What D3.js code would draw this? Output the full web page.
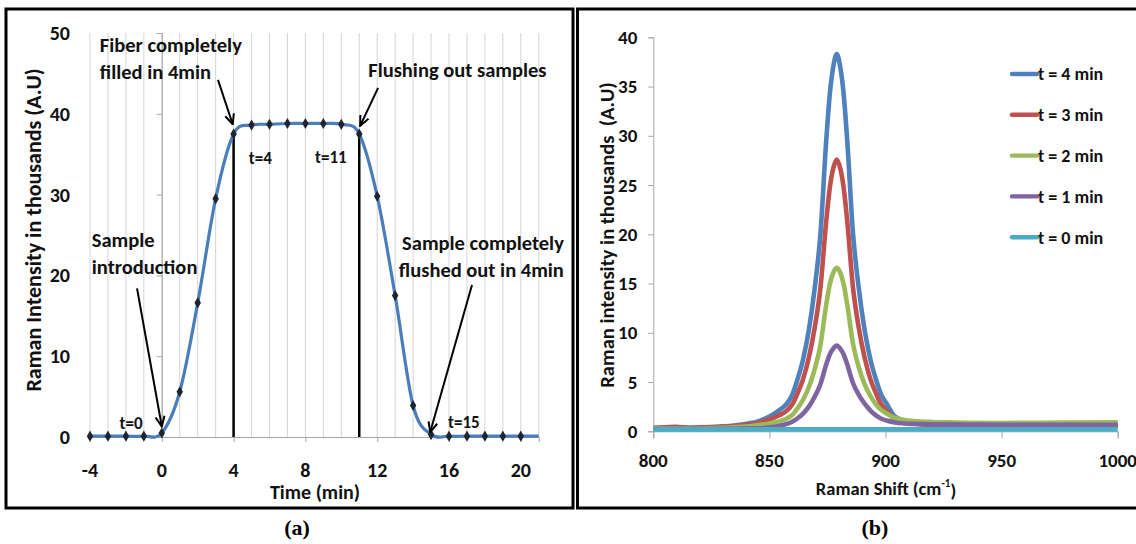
<!DOCTYPE html>
<html>
<head>
<meta charset="utf-8">
<script src="https://cdn.jsdelivr.net/npm/d3@7"></script>
<style>
  html, body { margin: 0; padding: 0; background: #fff; }
  svg { display: block; }
  .sans { font-family: Carlito, Lato, "Open Sans", sans-serif; }
  .serif { font-family: "Liberation Serif", "Times New Roman", serif; }
</style>
</head>
<body>
<svg id="chart" width="1136" height="544"></svg>
<script>
// ---------- panel (a): Raman intensity while the fiber fills and flushes ----------
const timeMin = [-4, -3, -2, -1, 0, 1, 2, 3, 4, 5, 6, 7, 8, 9, 10, 11, 12, 13, 14, 15, 16, 17, 18, 19, 20, 21];
const intensityA = [0.1, 0.1, 0.1, 0.1, 0.5, 5.6, 16.6, 29.5, 37.5, 38.6, 38.7, 38.8, 38.8, 38.8, 38.7, 37.5, 29.8, 17.5, 3.9, 0.3, 0.1, 0.1, 0.1, 0.1, 0.1, 0.1];
const timeTicks = [-4, 0, 4, 8, 12, 16, 20];
const intensityTicksA = [0, 10, 20, 30, 40, 50];
const markedTimes = [4, 11];   // fill complete / flushing starts

// ---------- panel (b): spectra around the 879 cm-1 band ----------
const shiftTicks = [800, 850, 900, 950, 1000];
const intensityTicksB = [0, 5, 10, 15, 20, 25, 30, 35, 40];
const seriesNames = ["t = 4 min", "t = 3 min", "t = 2 min", "t = 1 min", "t = 0 min"];
const seriesColors = ["#4F81BD", "#C0504D", "#9BBB59", "#8064A2", "#4BACC6"];

const spec4 = [[800,0.3],[810,0.35],[820,0.35],[830,0.5],[838,0.7],[845,1.0],[850,1.5],[854,2.1],[857.5,2.8],[860,3.8],[862,5.2],[864.5,7.3],[867,10.3],[869.5,14.5],[872,20.1],[874.5,29.6],[876,34.2],[877.5,37.0],[879,38.3],[880.5,37.0],[882,34.2],[883.5,29.6],[886,20.1],[888.5,14.5],[891,10.3],[893.5,7.3],[896,5.2],[898,3.8],[900.5,2.8],[904,1.5],[908,1.1],[912,0.9],[920,0.75],[930,0.65],[950,0.6],[975,0.6],[1000,0.6]];
const spec3 = [[800,0.35],[805,0.4],[810,0.45],[815,0.35],[820,0.4],[830,0.45],[838,0.6],[845,0.85],[850,1.2],[854,1.6],[857.5,2.1],[860,2.8],[862,3.8],[864.5,5.3],[867,7.5],[869.5,10.5],[872,14.6],[874.5,21.4],[876,24.7],[877.5,26.7],[879,27.6],[880.5,26.7],[882,24.7],[883.5,21.4],[886,14.6],[888.5,10.5],[891,7.5],[893.5,5.3],[896,3.8],[898,2.8],[900.5,2.1],[904,1.25],[908,0.95],[912,0.8],[920,0.65],[930,0.6],[950,0.55],[975,0.55],[1000,0.55]];
const spec2 = [[800,0.3],[820,0.3],[830,0.35],[838,0.45],[845,0.6],[850,0.8],[854,1.0],[857.5,1.3],[860,1.7],[862,2.3],[864.5,3.2],[867,4.5],[869.5,6.3],[872,8.8],[874.5,12.9],[876,14.9],[877.5,16.1],[879,16.6],[880.5,16.1],[882,14.9],[883.5,12.9],[886,8.9],[888.5,6.5],[891,4.8],[893.5,3.6],[896,2.7],[898,2.2],[900.5,1.8],[904,1.35],[908,1.15],[912,1.05],[920,0.95],[930,0.9],[950,0.85],[975,0.88],[1000,0.92]];
const spec1 = [[800,0.25],[830,0.25],[845,0.3],[850,0.4],[854,0.55],[857.5,0.75],[860,1.0],[862,1.3],[864.5,1.8],[867,2.5],[869.5,3.5],[872,4.8],[874.5,6.8],[876,7.8],[877.5,8.4],[879,8.7],[880.5,8.4],[882,7.8],[883.5,6.8],[886,4.9],[888.5,3.7],[891,2.8],[893.5,2.1],[896,1.6],[898,1.3],[900.5,1.1],[904,0.9],[908,0.8],[912,0.75],[920,0.7],[950,0.65],[975,0.65],[1000,0.65]];
const spec0 = [[800,0.2],[850,0.2],[900,0.2],[950,0.2],[1000,0.2]];
const spectra = [spec4, spec3, spec2, spec1, spec0];

const svg = d3.select("#chart");
svg.append("rect").attr("width", 1136).attr("height", 544).attr("fill", "#fff");

// arrowhead used by the call-outs
svg.append("defs").append("marker")
  .attr("id", "arrowhead")
  .attr("markerUnits", "userSpaceOnUse")
  .attr("viewBox", "0 0 12 12")
  .attr("markerWidth", 12).attr("markerHeight", 12)
  .attr("refX", 11).attr("refY", 6)
  .attr("orient", "auto")
  .append("path")
  .attr("d", "M1,1.5 L11,6 L1,10.5")
  .attr("fill", "none").attr("stroke", "#000").attr("stroke-width", 2);

// panel frames
svg.append("rect").attr("x", 6).attr("y", 9).attr("width", 567).attr("height", 499)
  .attr("fill", "none").attr("stroke", "#000").attr("stroke-width", 3);
svg.append("rect").attr("x", 577.5).attr("y", 9).attr("width", 570).attr("height", 499)
  .attr("fill", "none").attr("stroke", "#000").attr("stroke-width", 3);

// helper for bold sans labels
function label(sel, size, weight) {
  return sel.attr("class", "sans")
    .attr("font-size", size).attr("font-weight", weight || "bold").attr("fill", "#111");
}

// =================== panel (a) ===================
const xA = d3.scaleLinear().domain([-4, 21]).range([90, 538.75]);
const yA = d3.scaleLinear().domain([0, 50]).range([437, 33]);
const gA = svg.append("g");

// one-minute vertical gridlines
gA.append("g").selectAll("line")
  .data(d3.range(-4, 22))
  .join("line")
  .attr("x1", d => xA(d)).attr("x2", d => xA(d))
  .attr("y1", yA(0)).attr("y2", yA(50))
  .attr("stroke", "#d4d4d4").attr("stroke-width", 1);

// y axis drawn at t = 0, labels pulled out to the left edge
const yAxisA = gA.append("g").attr("transform", `translate(${xA(0)},0)`)
  .call(d3.axisLeft(yA).tickValues(intensityTicksA).tickSize(5).tickFormat(""));
yAxisA.select(".domain").attr("stroke", "#a6a6a6");
yAxisA.selectAll(".tick line").attr("stroke", "#a6a6a6");
label(gA.append("g").selectAll("text")
  .data(intensityTicksA)
  .join("text"), 20)
  .attr("x", 70).attr("y", d => yA(d)).attr("dy", "0.35em")
  .attr("text-anchor", "end")
  .text(d => d);

// x axis at intensity 0
const xAxisA = gA.append("g").attr("transform", `translate(0,${yA(0)})`)
  .call(d3.axisBottom(xA).tickValues(timeTicks).tickSize(5).tickFormat(""));
xAxisA.select(".domain").attr("stroke", "#a6a6a6");
xAxisA.selectAll(".tick line").attr("stroke", "#a6a6a6");
label(gA.append("g").selectAll("text")
  .data(timeTicks)
  .join("text"), 20)
  .attr("x", d => xA(d)).attr("y", yA(0) + 33).attr("dy", "0.35em")
  .attr("text-anchor", "middle")
  .text(d => d);

// axis titles
label(gA.append("text"), 22)
  .attr("transform", `translate(33,${(yA(0) + yA(50)) / 2 - 5}) rotate(-90)`)
  .attr("text-anchor", "middle").attr("dy", "0.35em")
  .text("Raman Intensity in thousands (A.U)");
label(gA.append("text"), 20)
  .attr("x", 315).attr("y", 492).attr("dy", "0.35em")
  .attr("text-anchor", "middle")
  .text("Time (min)");

const pointsA = timeMin.map((t, i) => ({ t, v: intensityA[i] }));

// markers at the fill-complete and flush-start times
gA.append("g").selectAll("line")
  .data(pointsA.filter(p => markedTimes.includes(p.t)))
  .join("line")
  .attr("x1", p => xA(p.t)).attr("x2", p => xA(p.t))
  .attr("y1", p => yA(p.v)).attr("y2", yA(0))
  .attr("stroke", "#000").attr("stroke-width", 2.5);

// smoothed intensity curve
gA.append("path")
  .datum(pointsA)
  .attr("d", d3.line().x(p => xA(p.t)).y(p => yA(p.v)).curve(d3.curveCatmullRom.alpha(0)))
  .attr("fill", "none").attr("stroke", "#4A7EBB").attr("stroke-width", 3.2);

// diamond markers on the sampled minutes
gA.append("g").selectAll("path")
  .data(pointsA.filter(p => p.t <= d3.max(timeTicks)))
  .join("path")
  .attr("transform", p => `translate(${xA(p.t)},${yA(p.v)})`)
  .attr("d", d3.symbol(d3.symbolDiamond, 36))
  .attr("fill", "#1e2430");

// call-out labels (positions in data units)
const notesA = [
  { lines: ["Fiber completely", "filled in 4min"], t: -3.45, v: 48.5, anchor: "start", size: 20.5 },
  { lines: ["Flushing out samples"], t: 11.5, v: 45.4, anchor: "start", size: 20.5 },
  { lines: ["Sample", "introduction"], t: -3.9, v: 24.4, anchor: "start", size: 20.5 },
  { lines: ["Sample completely", "flushed out in 4min"], t: 22.4, v: 24.0, anchor: "end", size: 20.5 },
  { lines: ["t=4"], t: 4.85, v: 34.5, anchor: "start", size: 17 },
  { lines: ["t=11"], t: 10.3, v: 34.6, anchor: "end", size: 17 },
  { lines: ["t=0"], t: -2.35, v: 1.75, anchor: "start", size: 17 },
  { lines: ["t=15"], t: 15.95, v: 1.85, anchor: "start", size: 17 }
];
notesA.forEach(n => {
  const txt = label(gA.append("text"), n.size).attr("text-anchor", n.anchor);
  n.lines.forEach((line, i) => {
    txt.append("tspan")
      .attr("x", xA(n.t))
      .attr("y", yA(n.v) + i * 27)
      .attr("dy", "0.35em")
      .text(line);
  });
});

const arrowsA = [
  { from: [3.13, 44.2], to: [3.95, 38.7] },
  { from: [12.05, 43.2], to: [11.05, 38.5] },
  { from: [-1.38, 18.4], to: [0.0, 1.3] },
  { from: [17.28, 18.8], to: [14.95, 0.6] }
];
gA.append("g").selectAll("line")
  .data(arrowsA)
  .join("line")
  .attr("x1", a => xA(a.from[0])).attr("y1", a => yA(a.from[1]))
  .attr("x2", a => xA(a.to[0])).attr("y2", a => yA(a.to[1]))
  .attr("stroke", "#000").attr("stroke-width", 2)
  .attr("marker-end", "url(#arrowhead)");

// =================== panel (b) ===================
const xB = d3.scaleLinear().domain([800, 1000]).range([653.3, 1117.7]);
const yB = d3.scaleLinear().domain([0, 40]).range([431.3, 37.3]);
const gB = svg.append("g");

const yAxisB = gB.append("g").attr("transform", `translate(${xB(800)},0)`)
  .call(d3.axisLeft(yB).tickValues(intensityTicksB).tickSize(5).tickFormat(""));
yAxisB.select(".domain").attr("stroke", "#a6a6a6");
yAxisB.selectAll(".tick line").attr("stroke", "#a6a6a6");
label(gB.append("g").selectAll("text")
  .data(intensityTicksB)
  .join("text"), 19)
  .attr("x", xB(800) - 16).attr("y", d => yB(d)).attr("dy", "0.35em")
  .attr("text-anchor", "end")
  .text(d => d);

const xAxisB = gB.append("g").attr("transform", `translate(0,${yB(0)})`)
  .call(d3.axisBottom(xB).tickValues(shiftTicks).tickSize(7).tickFormat(""));
xAxisB.select(".domain").attr("stroke", "#a6a6a6");
xAxisB.selectAll(".tick line").attr("stroke", "#a6a6a6");
label(gB.append("g").selectAll("text")
  .data(shiftTicks)
  .join("text"), 19)
  .attr("x", d => xB(d)).attr("y", yB(0) + 29).attr("dy", "0.35em")
  .attr("text-anchor", "middle")
  .text(d => d);

label(gB.append("text"), 20.5)
  .attr("transform", `translate(607,235) rotate(-90)`)
  .attr("text-anchor", "middle").attr("dy", "0.35em")
  .attr("xml:space", "preserve")
  .text("Raman intensity in thousands  (A.U)");

const xTitleB = label(gB.append("text"), 18.5)
  .attr("x", 886).attr("y", 489).attr("dy", "0.35em")
  .attr("text-anchor", "middle");
xTitleB.append("tspan").text("Raman Shift (cm");
xTitleB.append("tspan").attr("font-size", 11).attr("dy", "-0.8em").text("-1");
xTitleB.append("tspan").attr("dy", "0.55em").text(")");

const lineB = d3.line().x(d => xB(d[0])).y(d => yB(d[1])).curve(d3.curveMonotoneX);
gB.append("g").selectAll("path")
  .data(spectra)
  .join("path")
  .attr("d", lineB)
  .attr("fill", "none")
  .attr("stroke", (d, i) => seriesColors[i])
  .attr("stroke-width", 4.6)
  .attr("stroke-linejoin", "round");

// legend
const legend = gB.append("g").selectAll("g")
  .data(seriesNames)
  .join("g")
  .attr("transform", (d, i) => `translate(1012,${74 + i * 40.8})`);
legend.append("line")
  .attr("x1", 0).attr("x2", 25)
  .attr("stroke", (d, i) => seriesColors[i]).attr("stroke-width", 4.4)
  .attr("stroke-linecap", "round");
label(legend.append("text"), 18)
  .attr("x", 26).attr("dy", "0.35em")
  .text(d => d);

// panel captions
svg.append("text").attr("class", "serif")
  .attr("x", 297).attr("y", 527).attr("dy", "0.35em")
  .attr("text-anchor", "middle")
  .attr("font-size", 22).attr("font-weight", "bold").text("(a)");
svg.append("text").attr("class", "serif")
  .attr("x", 875).attr("y", 527).attr("dy", "0.35em")
  .attr("text-anchor", "middle")
  .attr("font-size", 22).attr("font-weight", "bold").text("(b)");
</script>
</body>
</html>
